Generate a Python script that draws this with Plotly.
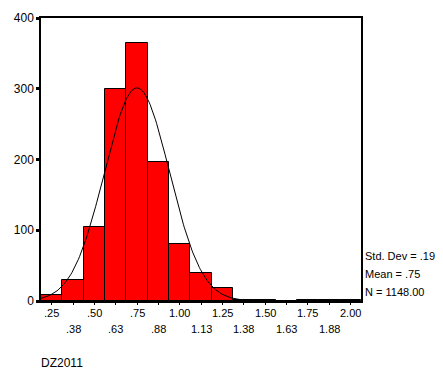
import numpy as np
import plotly.graph_objects as go

bin_centers = [0.25, 0.375, 0.5, 0.625, 0.75, 0.875, 1.0, 1.125, 1.25, 1.375, 1.5, 1.625, 1.75, 1.875, 2.0]
counts = [9, 30, 105, 299, 365, 197, 80, 39, 18, 2, 1, 0, 1, 1, 1]
upper_labels = [".25", ".50", ".75", "1.00", "1.25", "1.50", "1.75", "2.00"]
lower_labels = [".38", ".63", ".88", "1.13", "1.38", "1.63", "1.88"]
stats_lines = ["Std. Dev = .19", "Mean = .75", "N = 1148.00"]
mean, sd, n, binw = 0.75, 0.19, 1148, 0.125
var_name = "DZ2011"

FONT = "Liberation Sans, Arial, sans-serif"

fig = go.Figure()
fig.add_trace(go.Bar(x=bin_centers, y=counts, width=binw,
                     marker=dict(color="#FF0000", line=dict(color="black", width=1)),
                     hoverinfo="x+y"))
xs = np.linspace(0.1875, 2.0625, 300)
ys = n * binw / (sd * np.sqrt(2 * np.pi)) * np.exp(-0.5 * ((xs - mean) / sd) ** 2)
fig.add_trace(go.Scatter(x=xs, y=ys, mode="lines", line=dict(color="black", width=1)))

annotations = []
for i, c in enumerate(bin_centers):
    if i % 2 == 0:
        annotations.append(dict(x=c, y=-0.013, xref="x", yref="paper", text=upper_labels[i // 2],
                                showarrow=False, yanchor="top", font=dict(size=11, color="black", family=FONT)))
    else:
        annotations.append(dict(x=c, y=-0.07, xref="x", yref="paper", text=lower_labels[i // 2],
                                showarrow=False, yanchor="top", font=dict(size=11, color="black", family=FONT)))
for j, t in enumerate(stats_lines):
    annotations.append(dict(x=1.005, y=0.16 - j * 0.064, xref="paper", yref="paper", text=t,
                            showarrow=False, xanchor="left", yanchor="middle",
                            font=dict(size=11, color="black", family=FONT)))
annotations.append(dict(x=-0.005, y=-0.22, xref="paper", yref="paper", text=var_name,
                        showarrow=False, xanchor="left", yanchor="middle",
                        font=dict(size=12, color="black", family=FONT)))

fig.update_layout(
    width=443, height=375,
    margin=dict(l=41, r=82, t=18, b=74),
    paper_bgcolor="white", plot_bgcolor="white",
    showlegend=False, bargap=0,
    font=dict(family=FONT, size=11, color="black"),
    annotations=annotations,
    xaxis=dict(range=[0.1875, 2.0625], tickvals=bin_centers, showticklabels=False,
               ticks="outside", ticklen=2, tickwidth=1, tickcolor="black",
               showline=True, linecolor="black", linewidth=2, mirror=True,
               showgrid=False, zeroline=False),
    yaxis=dict(range=[0, 400], tickvals=[0, 100, 200, 300, 400],
               ticks="outside", ticklen=3, tickwidth=3, tickcolor="black",
               showline=True, linecolor="black", linewidth=1.5, mirror=True,
               showgrid=False, zeroline=False, tickfont=dict(size=12)),
)
fig.write_html("out.html", config={"displayModeBar": False},
               post_script="document.body.style.margin='0';")
